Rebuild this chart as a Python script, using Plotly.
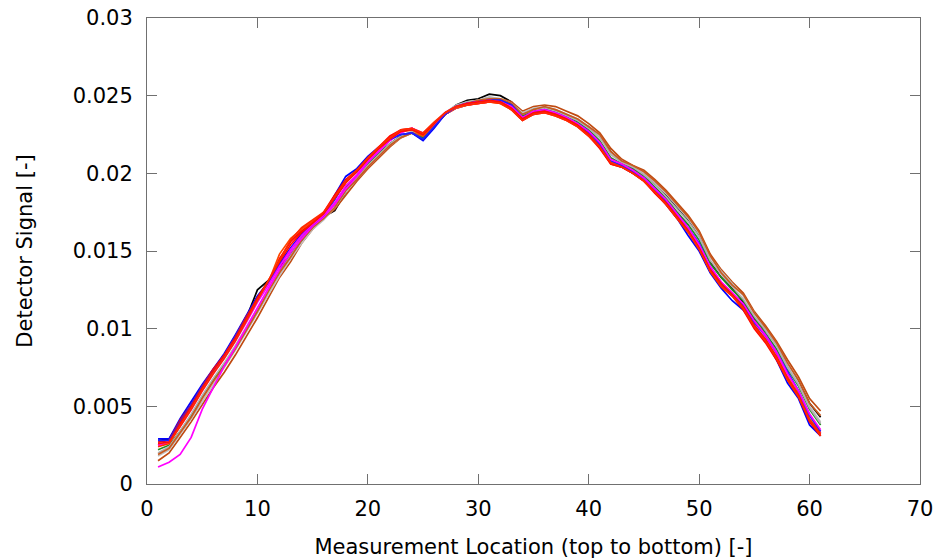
import plotly.graph_objects as go

x_loc = list(range(1, 62))

# detector signal, in units of 1e-4
s_black1 = [28,29,40,50,62,73,82,94,107,125,131,140,147,156,165,172,176,188,197,207,213,219,224,226,222,230,238,244,247,248,251,250,246,237,240,242,240,237,234,230,224,214,207,203,199,193,186,178,170,160,143,133,126,117,106,99,90,77,66,52,43]
s_brown1 = [15,20,30,40,51,62,72,83,95,107,120,133,143,155,164,171,177,186,195,203,210,217,223,226,224,231,238,242,245,247,248,248,246,240,243,244,243,240,237,232,226,216,209,205,202,196,189,181,173,163,148,138,130,123,111,102,92,80,69,55,47]
s_gray1 = [18,22,32,42,53,64,75,86,98,110,122,134,145,155,164,170,178,188,196,204,211,218,223,226,224,231,238,243,246,247,249,248,245,239,242,243,241,238,235,230,224,213,208,204,200,194,187,179,171,161,146,137,129,121,110,100,90,77,65,50,40]
s_green = [22,25,34,44,56,67,77,88,100,113,125,137,148,158,166,172,180,191,198,206,213,219,224,226,223,231,238,242,244,246,247,247,244,237,241,242,240,237,233,228,221,210,206,203,198,191,184,175,167,157,142,133,125,118,107,97,87,74,63,48,38]
s_gray2 = [20,24,34,45,57,68,78,89,101,113,125,136,147,157,165,171,178,189,197,205,212,219,224,227,225,232,239,244,246,247,249,248,245,238,241,242,240,237,234,229,223,212,207,204,199,193,185,177,169,159,144,135,127,119,108,99,89,75,64,49,39]
s_brown2 = [19,23,33,43,55,66,76,87,99,111,124,136,146,157,165,171,178,189,196,204,211,218,223,226,224,231,238,243,245,247,248,248,245,238,241,243,241,238,235,230,225,214,208,205,201,195,188,180,172,162,147,136,128,122,110,101,91,78,67,52,44]
s_magenta1 = [11,14,19,30,48,62,76,88,101,114,126,138,149,158,166,172,180,190,198,207,214,221,226,229,225,231,238,242,244,245,246,246,242,235,239,240,238,235,231,226,219,208,205,201,196,189,182,173,165,154,140,130,123,115,104,95,84,71,60,45,33]
s_blue1 = [29,29,42,53,64,74,84,96,109,121,130,142,152,161,168,173,186,198,203,211,217,222,225,226,221,229,238,243,245,246,247,247,244,235,238,240,238,235,231,226,218,207,204,200,196,188,180,171,160,150,136,126,118,112,102,93,80,65,55,38,31]
s_red1 = [27,28,41,51,63,74,83,95,108,119,130,145,156,163,168,175,186,196,202,210,217,224,228,229,225,232,239,243,244,245,246,246,241,234,238,239,237,234,230,224,216,206,204,200,195,187,180,171,163,152,137,127,121,112,100,91,80,67,56,40,31]
s_orange1 = [25,27,38,49,61,72,82,93,106,119,130,148,158,164,169,174,184,194,201,209,216,223,227,228,224,231,238,242,244,245,246,245,241,235,239,240,238,235,231,225,218,207,205,201,196,188,181,172,164,153,137,128,122,114,102,93,82,69,58,42,33]
s_blue2 = [28,28,40,51,63,73,83,95,108,120,130,141,151,160,167,173,183,195,201,209,216,222,225,226,222,230,238,243,245,246,247,247,244,236,239,241,239,236,232,227,219,208,205,201,197,190,182,174,165,155,139,129,122,115,104,96,85,72,60,44,34]
s_magenta2 = [25,27,37,48,60,71,81,92,104,117,128,140,151,160,167,173,181,192,199,208,215,222,227,229,226,232,239,243,245,246,247,246,243,236,240,241,239,236,232,227,220,209,206,202,197,190,183,174,165,154,140,130,123,116,105,96,85,71,60,45,35]
s_red2 = [26,27,39,50,62,73,83,94,107,120,131,143,154,162,168,174,184,194,201,209,216,222,227,228,225,232,239,243,245,246,247,246,242,235,239,240,238,235,231,225,217,206,204,200,195,188,181,172,163,152,138,129,122,114,102,93,82,68,57,41,32]
s_red3 = [24,26,37,48,60,71,81,92,105,118,130,144,157,165,170,175,185,195,202,210,217,223,228,229,226,233,239,243,244,245,246,245,241,234,238,239,237,234,230,224,217,207,204,200,195,188,180,171,162,151,137,127,121,113,101,92,81,67,56,41,31]

series = [
    (s_black1, "#000000"),
    (s_brown1, "#c04a10"),
    (s_gray1, "#c0c0c0"),
    (s_green, "#228b22"),
    (s_gray2, "#b0b0b0"),
    (s_brown2, "#c85a20"),
    (s_magenta1, "#ff00ff"),
    (s_blue1, "#0000ff"),
    (s_red1, "#ff0000"),
    (s_orange1, "#ff4500"),
    (s_blue2, "#2020ff"),
    (s_magenta2, "#ff00ff"),
    (s_red2, "#ff1000"),
    (s_red3, "#ff2a00"),
]

y_ticks = [0, 0.005, 0.01, 0.015, 0.02, 0.025, 0.03]
y_labels = ["0", "0.005", "0.01", "0.015", "0.02", "0.025", "0.03"]
x_ticks = [0, 10, 20, 30, 40, 50, 60, 70]

FONT = "DejaVu Sans"

fig = go.Figure()
for vals, col in series:
    fig.add_trace(go.Scatter(
        x=x_loc, y=[v / 10000 for v in vals], mode="lines",
        line=dict(color=col, width=1.7), showlegend=False, hoverinfo="skip"))

axis_common = dict(
    showgrid=False, zeroline=False, showline=True, linecolor="#707070", linewidth=1,
    mirror="ticks", ticks="inside", ticklen=10, tickwidth=1, tickcolor="#707070",
    tickfont=dict(family=FONT, size=21, color="#000000"), automargin=False,
)
fig.update_xaxes(range=[0, 70], tickvals=x_ticks, ticktext=[str(t) for t in x_ticks],
                 title=dict(text="Measurement Location (top to bottom) [-]",
                            font=dict(family=FONT, size=21, color="#000000"), standoff=19),
                 ticklabelstandoff=6, **axis_common)
fig.update_yaxes(range=[0, 0.03], tickvals=y_ticks, ticktext=y_labels,
                 title=dict(text="Detector Signal [-]",
                            font=dict(family=FONT, size=21, color="#000000"), standoff=34),
                 ticklabelstandoff=9, **axis_common)
fig.update_layout(width=938, height=559, margin=dict(l=147, r=18, t=18, b=75),
                  plot_bgcolor="white", paper_bgcolor="white",
                  font=dict(family=FONT, size=21, color="#000000"))
fig.write_html("out.html")
